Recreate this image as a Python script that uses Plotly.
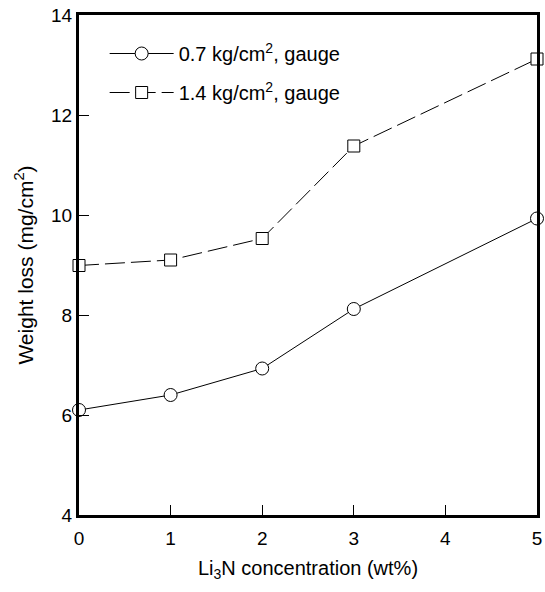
import plotly.graph_objects as go

# Li3N concentration (wt%) and measured weight loss (mg/cm^2)
conc = [0, 1, 2, 3, 5]
loss_07 = [6.1, 6.4, 6.93, 8.12, 9.93]
loss_14 = [8.99, 9.1, 9.53, 11.38, 13.12]

series_names = ["0.7 kg/cm<sup>2</sup>, gauge", "1.4 kg/cm<sup>2</sup>, gauge"]

x_ticks = [0, 1, 2, 3, 4, 5]
y_ticks = [4, 6, 8, 10, 12, 14]

FONT = "Liberation Sans, Arial, sans-serif"

fig = go.Figure()
fig.add_trace(go.Scatter(
    x=conc, y=loss_07, name=series_names[0], mode="lines+markers",
    legendgroup="a",
    line=dict(color="black", width=1),
    marker=dict(symbol="circle", size=13, color="white",
                line=dict(color="black", width=1)),
    cliponaxis=False,
))
fig.add_trace(go.Scatter(
    x=conc, y=loss_14, name=series_names[1], mode="lines+markers",
    legendgroup="b",
    line=dict(color="black", width=1, dash="20px,6px"),
    marker=dict(symbol="square", size=12, color="white",
                line=dict(color="black", width=1)),
    cliponaxis=False,
))

axis_common = dict(
    showline=True, linecolor="black", linewidth=3, mirror=True,
    ticks="inside", ticklen=10, tickwidth=1, tickcolor="black",
    showgrid=False, zeroline=False,
    tickfont=dict(family=FONT, size=19, color="black"),
)

fig.update_xaxes(
    range=[0, 5], tickvals=x_ticks,
    ticklabelstandoff=4,
    title=dict(text="Li<sub>3</sub>N concentration (wt%)",
               font=dict(family=FONT, size=20, color="black"), standoff=14),
    **axis_common,
)
fig.update_yaxes(
    range=[4, 14], tickvals=y_ticks,
    title=dict(text="Weight loss (mg/cm<sup>2</sup>)",
               font=dict(family=FONT, size=21, color="black"), standoff=12),
    **axis_common,
)

fig.update_layout(
    width=545, height=592,
    margin=dict(l=79, r=3, t=15, b=77),
    plot_bgcolor="white", paper_bgcolor="white",
    font=dict(family=FONT, color="black"),
    legend=dict(
        x=0.056, y=0.962, xanchor="left", yanchor="top",
        bgcolor="rgba(0,0,0,0)", borderwidth=0,
        font=dict(family=FONT, size=20, color="black"),
        itemwidth=64, tracegroupgap=10,
    ),
)

fig.write_html("out.html")
